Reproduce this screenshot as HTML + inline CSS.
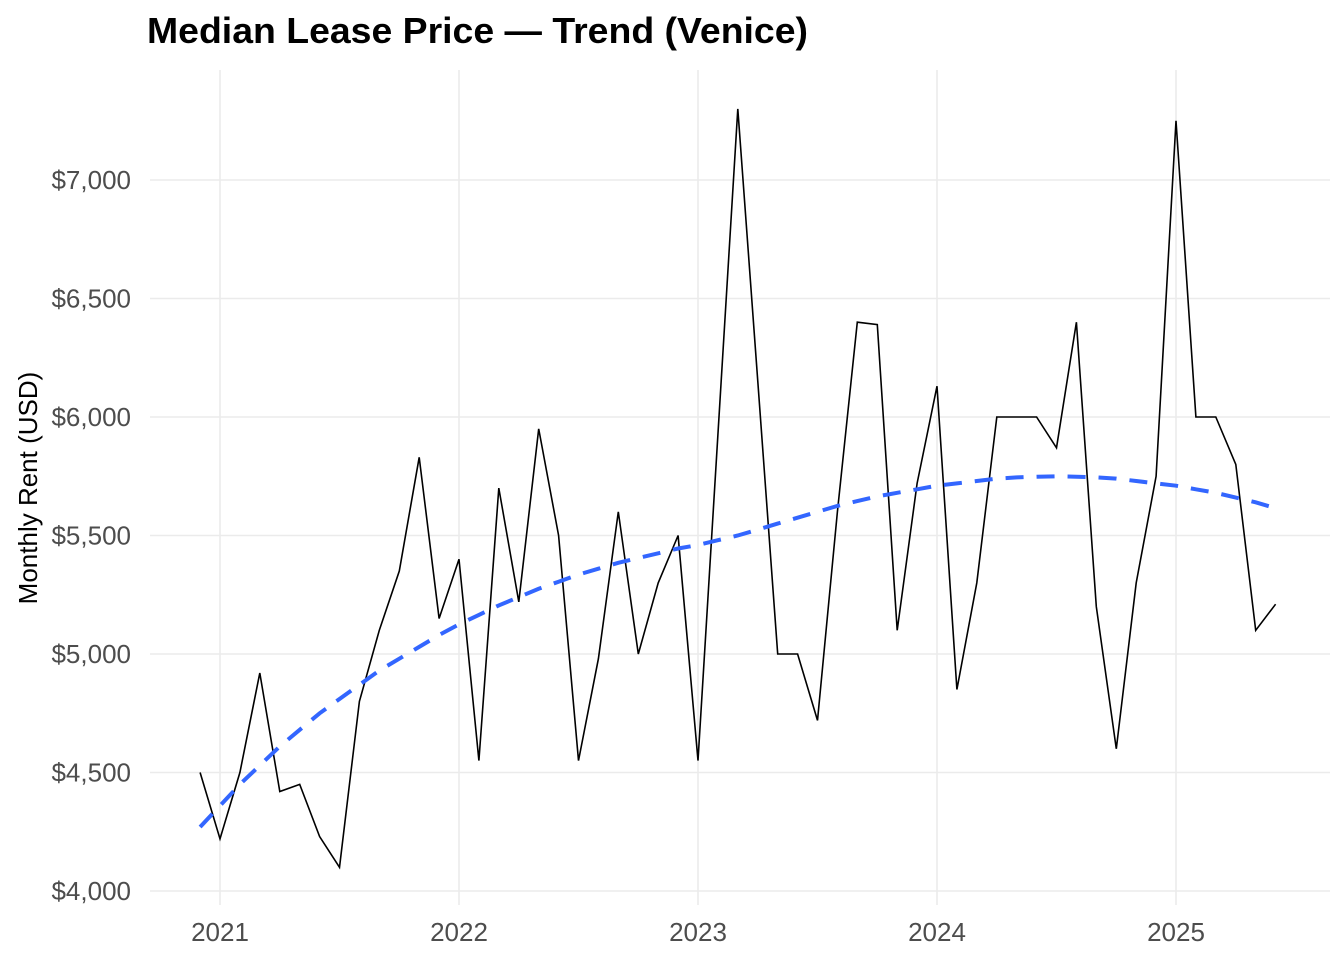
<!DOCTYPE html>
<html><head><meta charset="utf-8"><style>
body{margin:0;background:#fff;}
svg text{font-family:"Liberation Sans",Arial,sans-serif;}
</style></head><body>
<svg id="chart" width="1344" height="960">
<text x="147" y="43" font-size="36" font-weight="bold" fill="#000" textLength="661" lengthAdjust="spacingAndGlyphs">Median Lease Price — Trend (Venice)</text>
<text transform="translate(37,488) rotate(-90)" font-size="26" fill="#000" text-anchor="middle">Monthly Rent (USD)</text>
<g id="grid"></g><g id="ticks"></g><g id="series"></g>
</svg>
<script>
const startMonth = -1; // months relative to Jan 2021 (Dec 2020)
const rent = [4500,4220,4500,4920,4420,4450,4230,4100,4800,5100,5350,5830,5150,5400,4550,5700,5220,5950,5500,4550,4980,5600,5000,5300,5500,4550,5925,7300,6150,5000,5000,4720,5600,6400,6390,5100,5720,6130,4850,5300,6000,6000,6000,5870,6400,5200,4600,5300,5750,7250,6000,6000,5800,5100,5210];
const trend = [4270,4360,4450,4530,4610,4680,4750,4810,4870,4930,4980,5030,5080,5125,5165,5205,5240,5275,5305,5335,5360,5385,5405,5425,5445,5460,5480,5500,5525,5550,5575,5600,5625,5645,5665,5680,5695,5710,5720,5730,5740,5745,5748,5750,5748,5745,5740,5730,5720,5710,5695,5680,5660,5640,5615];
const yTicks = [4000,4500,5000,5500,6000,6500,7000];
const yTickLabels = ["$4,000","$4,500","$5,000","$5,500","$6,000","$6,500","$7,000"];
const xYears = [2021,2022,2023,2024,2025];

const NS="http://www.w3.org/2000/svg";
const X0=150,X1=1330,Yt=70,Yb=905;
function sx(m){return 220 + m*239/12;}
function sy(v){return 891 - (v-4000)*711/3000;}
function mk(tag,attrs,parent){const e=document.createElementNS(NS,tag);for(const k in attrs)e.setAttribute(k,attrs[k]);parent.appendChild(e);return e;}
const grid=document.getElementById('grid'),ticks=document.getElementById('ticks'),series=document.getElementById('series');
yTicks.forEach((v,i)=>{
  const l=mk('line',{x1:X0,x2:X1,y1:sy(v),y2:sy(v),stroke:'#ebebeb','stroke-width':1.6},grid);
  
  
  const t=mk('text',{x:131,y:sy(v)+9,'font-size':26,fill:'#4d4d4d','text-anchor':'end'},ticks);
  t.textContent=yTickLabels[i];
  
  
});
xYears.forEach(y=>{
  const x=sx((y-2021)*12);
  const l=mk('line',{x1:x,x2:x,y1:Yt,y2:Yb,stroke:'#ebebeb','stroke-width':1.6},grid);
  
  
  const t=mk('text',{x:x,y:941,'font-size':26,fill:'#4d4d4d','text-anchor':'middle'},ticks);
  t.textContent=y;
  
  
});
const lp=rent.map((v,i)=>sx(startMonth+i).toFixed(1)+','+sy(v).toFixed(1)).join(' ');
const line=mk('polyline',{points:lp,fill:'none',stroke:'#000','stroke-width':1.6,'stroke-linejoin':'miter'},series);


const tp=trend.map((v,i)=>sx(startMonth+i).toFixed(1)+','+sy(v).toFixed(1)).join(' ');
const tl=mk('polyline',{points:tp,fill:'none',stroke:'#3366ff','stroke-width':4,'stroke-dasharray':'18,13'},series);


</script>
</body></html>
